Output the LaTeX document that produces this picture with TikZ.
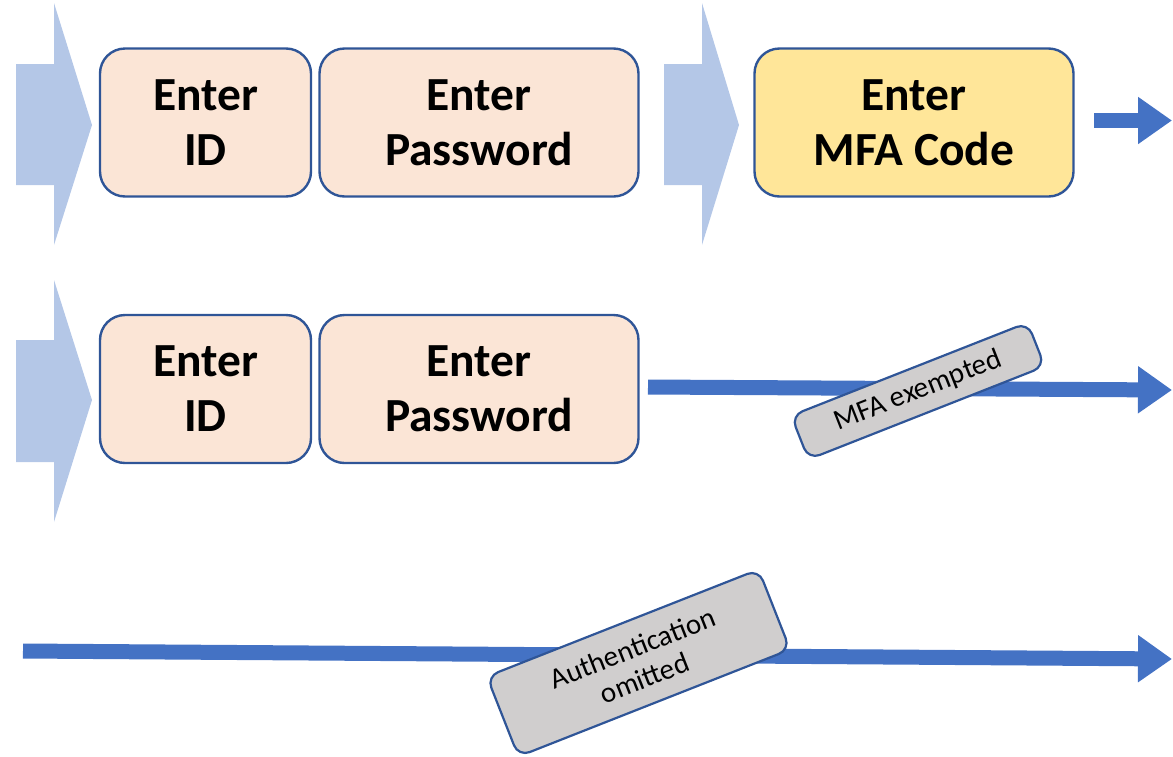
\documentclass[tikz,border=0pt]{standalone}
\usepackage{fontspec}
\setmainfont{Carlito}
\usetikzlibrary{arrows.meta}
\definecolor{chev}{HTML}{B4C7E7}
\definecolor{peach}{HTML}{FBE5D6}
\definecolor{gold}{HTML}{FFE699}
\definecolor{edge}{HTML}{2F5597}
\definecolor{flow}{HTML}{4472C4}
\definecolor{tag}{HTML}{D0CECE}
\begin{document}
\begin{tikzpicture}[x=1pt,y=-1pt,
  stepbox/.style={draw=edge, line width=2.4pt, rounded corners=25pt, align=center,
    font=\fontsize{47.5}{55}\selectfont\bfseries, inner sep=0pt, minimum height=148pt},
  idbox/.style={stepbox, fill=peach, minimum width=211pt},
  pwbox/.style={stepbox, fill=peach, minimum width=319pt},
  mfabox/.style={stepbox, fill=gold, minimum width=319pt},
  flowline/.style={draw=flow, line width=15pt, -{Triangle[length=34pt,width=45pt]}},
  tagbox/.style={draw=edge, fill=tag, line width=2.2pt, rounded corners=12pt, align=center,
    font=\fontsize{29}{32}\selectfont, inner sep=0pt, rotate=21.5},
  chevron/.style={fill=chev}
]
\useasboundingbox (0,0) rectangle (1173,756);

% chevrons
\fill[chevron] (16,64) -- (54,64) -- (54,3) -- (92,125) -- (54,245) -- (54,185) -- (16,185) -- cycle;
\fill[chevron] (664,64) -- (702,64) -- (702,3) -- (739,125) -- (702,245) -- (702,185) -- (664,185) -- cycle;
\fill[chevron] (16,340) -- (54,340) -- (54,280) -- (92,400) -- (54,522) -- (54,462) -- (16,462) -- cycle;

% row 1
\node[idbox] (id1) at (205.5,122.5) {Enter\\ID};
\node[pwbox] (pw1) at (479,122.5) {Enter\\Password};
\node[mfabox] (mfa) at (914,122.5) {Enter\\MFA Code};

% row 2
\node[idbox] (id2) at (205.5,389) {Enter\\ID};
\node[pwbox] (pw2) at (479,389) {Enter\\Password};

% connectors
\coordinate (r1s) at (1094,120.5);
\coordinate (r1e) at (1172,120.5);
\coordinate (r2s) at (648,387);
\coordinate (r2e) at (1172,390);
\coordinate (r3s) at (23,651);
\coordinate (r3e) at (1172,659);
\draw[flowline] (r1s) -- (r1e);
\draw[flowline] (r2s) -- (r2e);
\draw[flowline] (r3s) -- (r3e);

% labels
\node[tagbox, minimum width=254pt, minimum height=47pt] (mfaex) at (918,391) {MFA exempted};
\node[tagbox, minimum width=292pt, minimum height=86pt] (authom) at (638.5,663) {Authentication\\omitted};
\end{tikzpicture}
\end{document}
